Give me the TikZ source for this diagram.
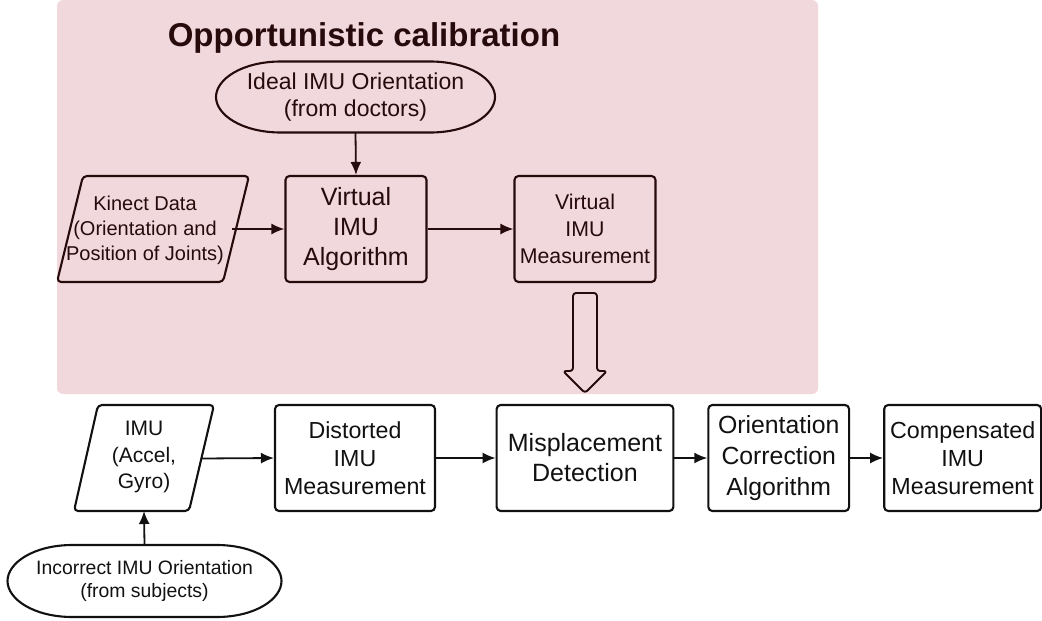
\documentclass[tikz,border=0pt]{standalone}
\usepackage{fontspec}
\setmainfont{Liberation Sans}
\usetikzlibrary{arrows.meta}
\definecolor{bgpink}{RGB}{241,216,220}
\definecolor{ink}{RGB}{38,10,12}
\definecolor{blk}{RGB}{17,17,17}
\begin{document}
\begin{tikzpicture}[x=1pt,y=-1pt,
  box/.style={draw,line width=2.1pt,rounded corners=4pt,minimum width=#1,minimum height=106pt,inner sep=0pt,align=center},
  txt/.style={inner sep=0pt,align=center},
  arr/.style={line width=1.8pt,-{Latex[length=13pt,width=11pt]}},
  outline/.style={draw,line width=2.1pt,line join=round}
]
\useasboundingbox (0,0) rectangle (1042,621);
% background panel
\fill[bgpink,rounded corners=6pt] (57,0) rectangle (818,394);
\node[txt,text=ink,font=\fontsize{33}{40}\selectfont\bfseries,anchor=base] (title) at (364,46.5) {Opportunistic calibration};

% top part
\node[txt,text=ink,minimum width=279pt,minimum height=71pt,font=\fontsize{23}{27.5}\selectfont] (ideal) at (355.5,97) {Ideal IMU Orientation\\(from doctors)};
\draw[outline,ink] (216,97) .. controls (216,79.2) and (242,61.5) .. (281,61.5) -- (430,61.5)
  .. controls (469,61.5) and (495,79.2) .. (495,97) .. controls (495,114.8) and (469,132.5) .. (430,132.5)
  -- (281,132.5) .. controls (242,132.5) and (216,114.8) .. cycle;
\draw[outline,ink,rounded corners=4pt] (83,176) -- (249,176) -- (223,282) -- (57,282) -- cycle;
\node[txt,text=ink,font=\fontsize{20}{25}\selectfont] (kin) at (145,230) {Kinect Data\\(Orientation and\\Position of Joints)};
\coordinate (kinout) at (232,229);
\node[box=141pt,ink,text=ink,font=\fontsize{25}{30}\selectfont] (valg) at (356,229) {Virtual\\IMU\\Algorithm};
\node[box=141pt,ink,text=ink,font=\fontsize{21.3}{26.7}\selectfont] (vmeas) at (585,229) {Virtual\\IMU\\Measurement};
\draw[arr,ink] (kinout) -- (valg.west);
\draw[arr,ink] (ideal.south) -- (valg.north);
\draw[arr,ink] (valg.east) -- (vmeas.west);
% hollow arrow
\coordinate (htip) at (585,393);
\draw[ink,line width=1.9pt,line join=round,rounded corners=3pt] (573,371) -- (573,293) -- (597,293) -- (597,371) -- (607,371) -- (htip) -- (563,371) -- cycle;

% bottom row
\draw[outline,blk,rounded corners=4pt] (98,405) -- (214,405) -- (189,511) -- (74,511) -- cycle;
\node[txt,text=blk,font=\fontsize{21}{26.7}\selectfont] (imu) at (144,457) {IMU\\(Accel,\\Gyro)};
\coordinate (imuout) at (201.5,458.5);
\coordinate (imuin) at (144,511);
\node[box=160pt,blk,text=blk,font=\fontsize{23.2}{28}\selectfont] (dist) at (355,458) {Distorted\\IMU\\Measurement};
\node[box=176.7pt,blk,text=blk,font=\fontsize{25}{30}\selectfont] (misp) at (585,458) {Misplacement\\Detection};
\node[box=140.7pt,blk,text=blk,font=\fontsize{24.8}{31}\selectfont] (orient) at (778.7,458) {Orientation\\Correction\\Algorithm};
\node[box=157pt,blk,text=blk,font=\fontsize{23.3}{28.3}\selectfont] (comp) at (962.7,458) {Compensated\\IMU\\Measurement};
\node[txt,text=blk,minimum width=274pt,minimum height=72pt,font=\fontsize{19.4}{23.4}\selectfont] (inc) at (144.5,581) {Incorrect IMU Orientation\\(from subjects)};
\draw[outline,blk] (7.5,581) .. controls (7.5,563) and (33.5,545) .. (72.5,545) -- (216.5,545)
  .. controls (255.5,545) and (281.5,563) .. (281.5,581) .. controls (281.5,599) and (255.5,617) .. (216.5,617)
  -- (72.5,617) .. controls (33.5,617) and (7.5,599) .. cycle;
\draw[arr,blk] (imuout) -- (dist.west);
\draw[arr,blk] (dist.east) -- (misp.west);
\draw[arr,blk] (misp.east) -- (orient.west);
\draw[arr,blk] (orient.east) -- (comp.west);
\draw[arr,blk] (inc.north) -- (imuin);
\end{tikzpicture}
\end{document}
